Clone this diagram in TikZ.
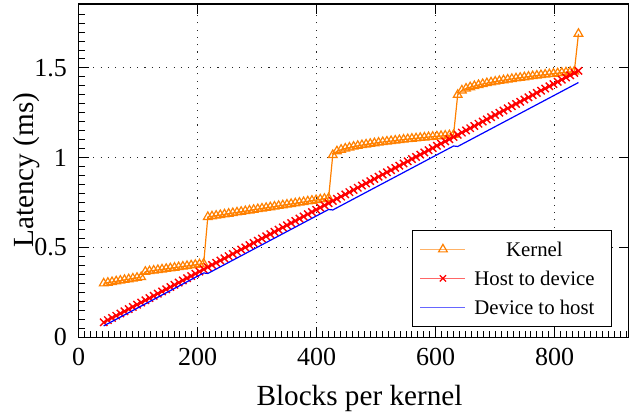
\documentclass[tikz,border=0pt]{standalone}
\usepackage{fontspec}
\setmainfont{Liberation Serif}
\usepackage{xcolor}
\usetikzlibrary{positioning, calc, plotmarks}

\tikzset{
  ticklabel/.style={font=\fontsize{13}{15}\selectfont, inner sep=2pt},
  axislabel/.style={font=\fontsize{14.6}{17}\selectfont, inner sep=0pt},
  legtext/.style={font=\fontsize{10.4}{12}\selectfont, inner sep=0pt},
  gridline/.style={black!85, line width=0.55pt, dash pattern=on 0.55pt off 3.1pt},
  kernelplot/.style={orange, line width=0.6pt, mark=triangle, mark size=2.5pt},
  htodplot/.style={red, line width=0.7pt, mark=x, mark size=2.6pt},
  dtohplot/.style={blue, line width=0.6pt},
}

\begin{document}
\begin{tikzpicture}[x=0.2975pt, y=89.8pt,
    declare function={
      kern(\t) = (\t<=105) ? (0.30+0.035*(\t-42)/63) :
                 ((\t<=210) ? (0.365+0.045*(\t-112)/98) :
                 ((\t<=420) ? (0.67+0.105*(\t-217)/203) :
                 ((\t<=630) ? (1.015+0.112*sqrt(max(\t-427,0)/203)) :
                 ((\t<=833) ? (1.35+0.13*sqrt(max(\t-637,0)/196)) : 1.69))));
      htod(\t) = 0.00176*\t + 0.0095;
      dtoh(\t) = 0.00176*\t - 0.0105 - 0.015*floor((\t-1)/210);
    }]
    \useasboundingbox (-132.3,-0.438) rectangle (943.4,1.878);

    % grid
    \foreach \gx in {200,400,600,800}
      \draw[gridline] (\gx,0) -- (\gx,1.856);
    \foreach \gy in {0.5,1,1.5}
      \draw[gridline] (0,\gy) -- (924.4,\gy);

    % ticks
    \foreach \mx in {10,20,...,920}
      \draw[line width=0.4pt] (\mx,0) -- ++(0,3pt);
    \foreach \my in {0.05,0.1,...,1.85}
      \draw[line width=0.4pt] (0,\my) -- ++(3pt,0);
    \foreach \gx in {200,400,600,800} {
      \draw[line width=0.5pt] (\gx,0) -- ++(0,5pt);
      \draw[line width=0.5pt] (\gx,1.856) -- ++(0,-5pt);
    }
    \foreach \gy in {0.5,1,1.5} {
      \draw[line width=0.5pt] (0,\gy) -- ++(5pt,0);
      \draw[line width=0.5pt] (924.4,\gy) -- ++(-5pt,0);
    }
    \draw[line width=0.6pt] (0,0) rectangle (924.4,1.856);

    % tick labels
    \foreach \gx in {0,200,400,600,800}
      \node[ticklabel, anchor=north, yshift=-3.5pt] (xt\gx) at (\gx,0) {\gx};
    \foreach \gy [count=\i] in {0,0.5,1,1.5}
      \node[ticklabel, anchor=east, xshift=-3.7pt] (yt\i) at (0,\gy) {\gy};
    \node[axislabel, anchor=base, yshift=-34pt] (xlabel) at (472,0) {Blocks per kernel};
    \node[axislabel, rotate=90] (ylabel) at (-88.4,0.93) {Latency (ms)};

    % data
    \draw[kernelplot] plot[samples at={42,49,...,840}] (\x,{kern(\x)});
    \draw[htodplot] plot[samples at={42,49,...,840}] (\x,{htod(\x)});
    \draw[dtohplot] plot[samples at={42,49,...,840}] (\x,{dtoh(\x)});

    % legend
    \node[draw, fill=white, line width=0.5pt, minimum width=99.5pt,
      minimum height=48.35pt, inner sep=0pt] (legend) at (728.5,0.328) {};
    \coordinate (k1) at ([xshift=4.15pt, yshift=14.5pt]legend.west);
    \coordinate (k2) at ([xshift=26.65pt, yshift=14.5pt]legend.west);
    \coordinate (h1) at ([xshift=4.15pt]legend.west);
    \coordinate (h2) at ([xshift=26.65pt]legend.west);
    \coordinate (d1) at ([xshift=4.15pt, yshift=-14.5pt]legend.west);
    \coordinate (d2) at ([xshift=26.65pt, yshift=-14.5pt]legend.west);
    \coordinate (km) at ($(k1)!0.5!(k2)$);
    \coordinate (hm) at ($(h1)!0.5!(h2)$);
    \draw[orange!60, line width=0.8pt] (k1) -- (k2);
    \draw[red!60, line width=0.8pt] (h1) -- (h2);
    \draw[blue!60, line width=0.8pt] (d1) -- (d2);
    \draw[orange, line width=0.6pt] plot[mark=triangle, mark size=2.5pt] coordinates {(km)};
    \draw[red, line width=0.6pt] plot[mark=x, mark size=2.2pt] coordinates {(hm)};
    \node[legtext] (kt) at ([xshift=61.15pt, yshift=14.5pt]legend.west) {Kernel};
    \node[legtext] (ht) at ([xshift=61.15pt]legend.west) {Host to device};
    \node[legtext] (dt) at ([xshift=61.15pt, yshift=-14.5pt]legend.west) {Device to host};
\end{tikzpicture}
\end{document}
